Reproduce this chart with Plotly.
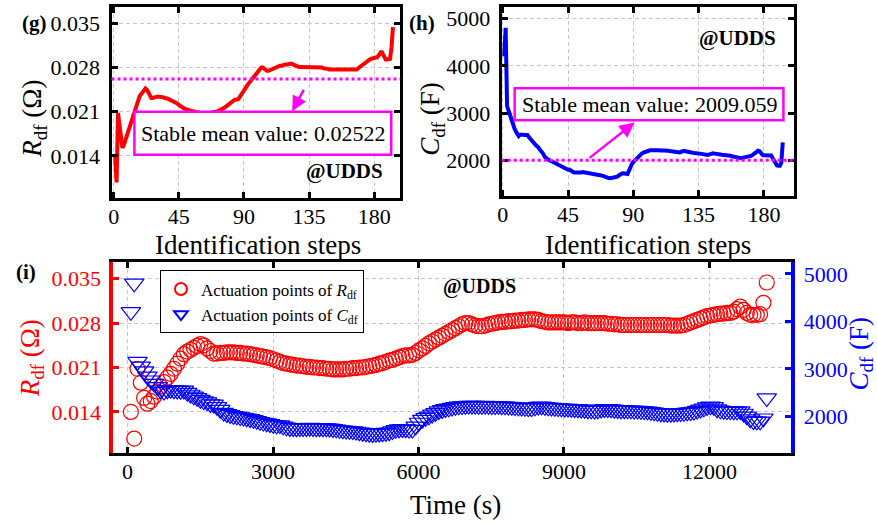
import plotly.graph_objects as go

# ---------------- data ----------------
STEPS = list(range(1, 194))
R_DF = [
    0.0140, 0.0098, 0.0208, 0.0186, 0.0162, 0.0153, 0.0157, 0.0164, 0.0172, 0.0180,
    0.0187, 0.0194, 0.0200, 0.0208, 0.0216, 0.0224, 0.0231, 0.0235, 0.0238, 0.0241,
    0.0244, 0.0247, 0.0245, 0.0240, 0.0236, 0.0232, 0.0232, 0.0233, 0.0233, 0.0234,
    0.0234, 0.0234, 0.0233, 0.0233, 0.0232, 0.0232, 0.0231, 0.0230, 0.0229, 0.0228,
    0.0227, 0.0226, 0.0225, 0.0223, 0.0221, 0.0219, 0.0217, 0.0216, 0.0215, 0.0214,
    0.0213, 0.0213, 0.0212, 0.0211, 0.0211, 0.0210, 0.0210, 0.0209, 0.0209, 0.0208,
    0.0208, 0.0207, 0.0207, 0.0207, 0.0207, 0.0208, 0.0208, 0.0209, 0.0209, 0.0210,
    0.0210, 0.0211, 0.0212, 0.0213, 0.0214, 0.0216, 0.0217, 0.0219, 0.0221, 0.0222,
    0.0224, 0.0226, 0.0228, 0.0229, 0.0229, 0.0230, 0.0233, 0.0237, 0.0240, 0.0244,
    0.0248, 0.0251, 0.0254, 0.0257, 0.0260, 0.0263, 0.0266, 0.0269, 0.0272, 0.0275,
    0.0278, 0.0280, 0.0280, 0.0278, 0.0276, 0.0275, 0.0275, 0.0276, 0.0278, 0.0279,
    0.0280, 0.0281, 0.0282, 0.0282, 0.0283, 0.0283, 0.0284, 0.0284, 0.0285, 0.0285,
    0.0286, 0.0286, 0.0286, 0.0285, 0.0283, 0.0282, 0.0281, 0.0281, 0.0281, 0.0281,
    0.0281, 0.0281, 0.0280, 0.0281, 0.0281, 0.0280, 0.0280, 0.0281, 0.0280, 0.0280,
    0.0280, 0.0280, 0.0280, 0.0280, 0.0279, 0.0279, 0.0278, 0.0278, 0.0277, 0.0277,
    0.0277, 0.0277, 0.0277, 0.0277, 0.0277, 0.0277, 0.0277, 0.0277, 0.0277, 0.0277,
    0.0277, 0.0277, 0.0277, 0.0276, 0.0276, 0.0276, 0.0276, 0.0277, 0.0279, 0.0281,
    0.0283, 0.0285, 0.0287, 0.0289, 0.0291, 0.0292, 0.0293, 0.0294, 0.0295, 0.0295,
    0.0296, 0.0296, 0.0298, 0.0302, 0.0306, 0.0301, 0.0296, 0.0293, 0.0293, 0.0293,
    0.0294, 0.0312, 0.0344,
]
C_DF = [
    4200, 4800, 3150, 3050, 2950, 2840, 2760, 2690, 2620, 2550,
    2520, 2550, 2560, 2550, 2545, 2540, 2545, 2500, 2460, 2420,
    2390, 2350, 2320, 2300, 2260, 2250, 2200, 2140, 2080, 2050,
    2030, 2010, 2000, 1985, 1975, 1960, 1945, 1925, 1905, 1885,
    1870, 1855, 1840, 1820, 1810, 1815, 1790, 1770, 1755, 1755,
    1750, 1755, 1755, 1755, 1760, 1755, 1750, 1755, 1750, 1750,
    1745, 1735, 1725, 1715, 1705, 1700, 1695, 1690, 1680, 1665,
    1655, 1645, 1635, 1630, 1635, 1640, 1645, 1655, 1665, 1690,
    1715, 1730, 1735, 1730, 1720, 1720, 1790, 1870, 1930, 1970,
    2000, 2040, 2075, 2110, 2135, 2155, 2170, 2185, 2200, 2210,
    2215, 2220, 2225, 2225, 2225, 2220, 2220, 2225, 2220, 2215,
    2215, 2220, 2210, 2210, 2205, 2200, 2195, 2190, 2185, 2180,
    2175, 2175, 2190, 2205, 2210, 2200, 2190, 2185, 2180, 2175,
    2170, 2165, 2165, 2160, 2155, 2150, 2145, 2140, 2130, 2125,
    2120, 2130, 2145, 2155, 2155, 2150, 2140, 2135, 2130, 2130,
    2125, 2125, 2120, 2120, 2115, 2110, 2105, 2095, 2085, 2075,
    2065, 2060, 2055, 2055, 2060, 2065, 2070, 2075, 2085, 2090,
    2100, 2120, 2145, 2170, 2195, 2210, 2200, 2150, 2125, 2115,
    2110, 2110, 2105, 2105, 2110, 2060, 2000, 1940, 1900, 1895,
    1895, 1960, 2385,
]
SAMPLE_PERIOD_S = 68.3
TIME_S = [s * SAMPLE_PERIOD_S for s in STEPS]

R_MEAN_LEVEL = 0.0262          # where the dotted line is drawn in the reference
R_MEAN_LABEL = "Stable mean value: 0.02522"
C_MEAN_LEVEL = 2009.059
C_MEAN_LABEL = "Stable mean value: 2009.059"

STEP_TICKS = [0, 45, 90, 135, 180]
R_TICKS = [0.014, 0.021, 0.028, 0.035]
C_TICKS = [2000, 3000, 4000, 5000]
TIME_TICKS = [0, 3000, 6000, 9000, 12000]

# ---------------- layout helpers ----------------
W, H = 877, 524
FONT = "Liberation Serif"
RED, BLUE, MAG = "#FF0000", "#0000FF", "#FF00FF"
GRID = "#c8c8c8"


def px(x):
    return x / W


def py(y):
    return 1 - y / H


fig = go.Figure()

# (g) R_df line
fig.add_trace(go.Scatter(x=STEPS, y=R_DF, mode="lines", line=dict(color=RED, width=4),
                         xaxis="x", yaxis="y", showlegend=False))
# (h) C_df line
fig.add_trace(go.Scatter(x=STEPS, y=C_DF, mode="lines", line=dict(color=BLUE, width=4),
                         xaxis="x2", yaxis="y2", showlegend=False))
# (i) actuation points
fig.add_trace(go.Scatter(x=TIME_S, y=R_DF, mode="markers",
                         marker=dict(symbol="circle-open", size=15, color=RED, line=dict(width=1.2)),
                         name="Actuation points of <i>R</i><sub>df</sub>",
                         xaxis="x3", yaxis="y3"))
fig.add_trace(go.Scatter(x=TIME_S, y=C_DF, mode="markers",
                         marker=dict(symbol="triangle-down-open", size=17, color=BLUE, line=dict(width=1.2)),
                         name="Actuation points of <i>C</i><sub>df</sub>",
                         xaxis="x3", yaxis="y4"))


def ax_common(**kw):
    d = dict(showline=True, linewidth=3, linecolor="black", mirror="ticks",
             ticks="inside", ticklen=6, tickwidth=3, tickcolor="black",
             showgrid=True, gridcolor=GRID, gridwidth=1, griddash="4px,3px",
             zeroline=False, tickfont=dict(family=FONT, size=22, color="black"),
             ticklabelstandoff=4)
    d.update(kw)
    return d


layout = dict(
    width=W, height=H, autosize=False,
    margin=dict(l=0, r=0, t=0, b=0),
    paper_bgcolor="white", plot_bgcolor="white",
    font=dict(family=FONT, color="black"),
    xaxis=ax_common(domain=[px(108), px(398)], range=[-1.5, 198], tickvals=STEP_TICKS, anchor="y",
                    ticklabelstandoff=-3),
    yaxis=ax_common(domain=[py(197), py(6)], range=[0.0074, 0.0376], tickvals=R_TICKS,
                    tickformat=".3f", anchor="x"),
    xaxis2=ax_common(domain=[px(500), px(794)], range=[-0.7, 201], tickvals=STEP_TICKS, anchor="y2",
                     ticklabelstandoff=-3),
    yaxis2=ax_common(domain=[py(195), py(6)], range=[1265, 5240], tickvals=C_TICKS, anchor="x2"),
    xaxis3=ax_common(domain=[px(110), px(791)], range=[-290, 13690], tickvals=TIME_TICKS, anchor="y3",
                     tickformat="d", ticklabelstandoff=-4),
    yaxis3=ax_common(domain=[py(453), py(261.7)], range=[0.0075, 0.0376], tickvals=R_TICKS,
                     tickformat=".3f", anchor="x3", mirror=False, linecolor=RED, tickcolor=RED,
                     linewidth=4, tickfont=dict(family=FONT, size=22, color=RED)),
    yaxis4=ax_common(overlaying="y3", side="right", anchor="x3", range=[1225, 5245],
                     tickvals=C_TICKS, mirror=False, showgrid=False, linecolor=BLUE,
                     tickcolor=BLUE, linewidth=4, tickfont=dict(family=FONT, size=22, color=BLUE)),
    legend=dict(x=px(156.7), y=py(270), xanchor="left", yanchor="top",
                bgcolor="white", bordercolor="black", borderwidth=1,
                font=dict(family=FONT, size=17, color="black"), tracegroupgap=0,
                itemsizing="constant"),
    showlegend=True,
)
fig.update_layout(**layout)

# mean lines
fig.add_shape(type="line", xref="x domain", x0=0, x1=1, yref="y", y0=R_MEAN_LEVEL, y1=R_MEAN_LEVEL,
              line=dict(color=MAG, width=3, dash="dot"))
fig.add_shape(type="line", xref="x2 domain", x0=0, x1=1, yref="y2", y0=C_MEAN_LEVEL, y1=C_MEAN_LEVEL,
              line=dict(color=MAG, width=3, dash="dot"))

# label boxes
fig.add_shape(type="rect", xref="paper", yref="paper", x0=px(131), x1=px(389), y0=py(154), y1=py(111),
              line=dict(color=MAG, width=2.5), fillcolor="white", layer="above")
fig.add_shape(type="rect", xref="paper", yref="paper", x0=px(513), x1=px(783), y0=py(119.5), y1=py(87.5),
              line=dict(color=MAG, width=2.5), fillcolor="white", layer="above")

ann = []


def text(x, y, s, size, color="black", angle=0, bold=False):
    if bold:
        s = "<b>" + s + "</b>"
    ann.append(dict(xref="paper", yref="paper", x=px(x), y=py(y), text=s, showarrow=False,
                    xanchor="center", yanchor="middle", textangle=angle,
                    font=dict(family=FONT, size=size, color=color)))


text(260, 132.5, R_MEAN_LABEL, 22)
text(648, 103.5, C_MEAN_LABEL, 22)
text(31, 22, "(g)", 21, bold=True)
text(420, 22, "(h)", 21, bold=True)
text(22, 272, "(i)", 21, bold=True)
text(342, 170, "@UDDS", 21, bold=True)
text(737, 37, "@UDDS", 21, bold=True)
text(478, 286, "@UDDS", 20, bold=True)
text(255, 244, "Identification steps", 27)
text(647, 244, "Identification steps", 27)
text(454, 505, "Time (s)", 27)
text(30, 118, "<i>R</i><sub>df</sub> (Ω)", 27, angle=-90)
text(430, 118, "<i>C</i><sub>df</sub> (F)", 27, angle=-90)
text(28, 358, "<i>R</i><sub>df</sub> (Ω)", 27, color=RED, angle=-90)
text(861, 353, "<i>C</i><sub>df</sub> (F)", 27, color=BLUE, angle=-90)

# arrows
ann.append(dict(xref="x", yref="y", axref="x", ayref="y", x=123.4, y=0.0211, ax=131.9, ay=0.0247,
                text="", showarrow=True, arrowhead=2, arrowsize=1.2, arrowwidth=2.5, arrowcolor=MAG,
                standoff=0, startstandoff=0))
ann.append(dict(xref="x2", yref="y2", axref="x2", ayref="y2", x=90.8, y=2805, ax=58.8, ay=2036,
                text="", showarrow=True, arrowhead=2, arrowsize=1.2, arrowwidth=2.5, arrowcolor=MAG,
                standoff=0, startstandoff=0))

fig.update_layout(annotations=ann)
fig.write_html("out.html")
